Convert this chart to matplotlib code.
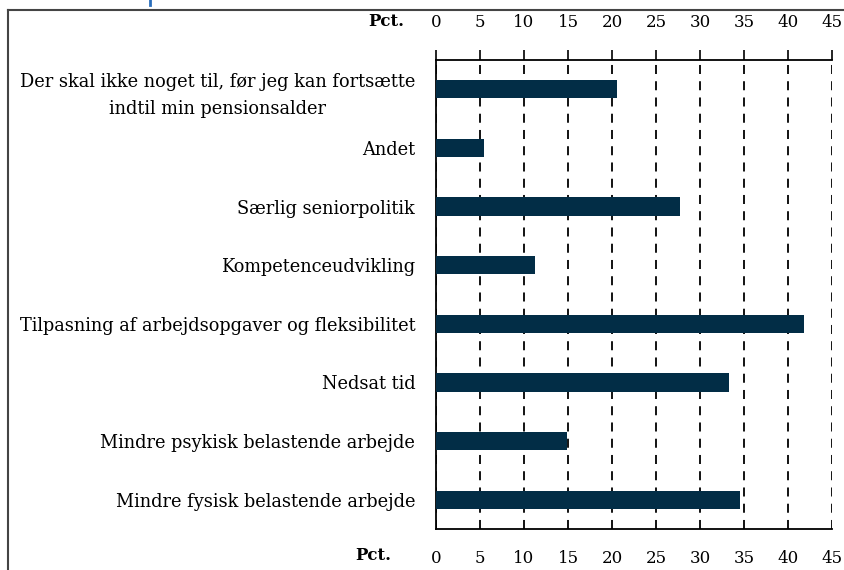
import matplotlib.pyplot as plt
from matplotlib.lines import Line2D
import numpy as np

labels = [
    "Der skal ikke noget til, før jeg kan fortsætte\nindtil min pensionsalder",
    "Andet",
    "Særlig seniorpolitik",
    "Kompetenceudvikling",
    "Tilpasning af arbejdsopgaver og fleksibilitet",
    "Nedsat tid",
    "Mindre psykisk belastende arbejde",
    "Mindre fysisk belastende arbejde",
]
values = [20.6, 5.4, 27.7, 11.2, 41.8, 33.3, 14.9, 34.6]
xticks = [0, 5, 10, 15, 20, 25, 30, 35, 40, 45]

plt.rcParams['font.family'] = ['DejaVu Serif']

fig = plt.figure(figsize=(8.44, 5.70), dpi=100)
ax = fig.add_axes([436 / 844, 1 - 529 / 570, 396 / 844, 469 / 570])

y = np.arange(len(labels))
ax.barh(y, values, height=0.31, color='#022d46', zorder=3)
ax.set_ylim(len(labels) - 0.5, -0.5)
ax.set_xlim(0, 45)

ax.set_yticks(y)
ax.set_yticklabels(labels, fontsize=12.8, multialignment='center', linespacing=1.6)
ax.tick_params(axis='y', length=0, pad=15)

# bottom labels, no tick marks
ax.set_xticks(xticks)
ax.tick_params(axis='x', labelsize=12, bottom=False, length=0, pad=15)

# top axis with outward ticks
top = ax.secondary_xaxis('top')
top.set_xticks(xticks)
top.tick_params(axis='x', labelsize=12, direction='out', length=7, width=1.2, pad=14)
top.spines['top'].set_linewidth(1.3)

ax.grid(axis='x', color='black', linestyle=(0, (5, 4)), linewidth=1.3, zorder=1)
ax.spines['right'].set_visible(False)
ax.spines['top'].set_visible(False)
for s in ['left', 'bottom']:
    ax.spines[s].set_linewidth(1.3)

fig.text(386 / 844, 1 - 21 / 570, "Pct.", fontsize=12, fontweight='bold',
         ha='center', va='center')
fig.text(373 / 844, 1 - 556 / 570, "Pct.", fontsize=12, fontweight='bold',
         ha='center', va='center')

# outer frame
fig.add_artist(Line2D([8 / 844, 8 / 844], [0, 1 - 10 / 570], color='#444444',
                      lw=1.5, transform=fig.transFigure))
fig.add_artist(Line2D([8 / 844, 1], [1 - 10 / 570, 1 - 10 / 570], color='#444444',
                      lw=1.5, transform=fig.transFigure))
fig.add_artist(Line2D([150 / 844, 150 / 844], [1, 1 - 5 / 570], color='#2a6ebb',
                      lw=2, transform=fig.transFigure))

fig.savefig('out.png', dpi=100)
